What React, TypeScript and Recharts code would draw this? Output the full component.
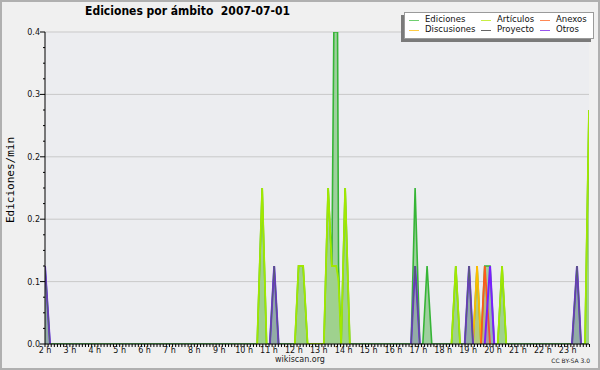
import React from 'react';
import { ComposedChart, Area, XAxis, YAxis, CartesianGrid } from 'recharts';

// time of each sample, in hours of the day
const times = [
  2.0, 2.201, 10.524, 10.725, 10.902, 11.034, 11.207, 11.384, 12.038, 12.187,
  12.371, 12.548, 13.203, 13.375, 13.524, 13.604, 13.697, 13.753, 13.793, 13.897,
  14.058, 14.247, 16.708, 16.869, 17.057, 17.178, 17.35, 17.539, 18.33, 18.503,
  18.675, 18.864, 19.037, 19.197, 19.358, 19.515, 19.667, 19.88, 20.049, 20.189,
  20.362, 20.531, 23.172, 23.373, 23.534, 23.694, 23.855,
];

// edits per minute
const ediciones = [
  0.1, 0, 0, 0.2, 0, 0, 0.1, 0, 0, 0.1,
  0.1, 0, 0, 0.2, 0.1, 0.4, 0.4, 0.4, 0.1, 0,
  0.2, 0, 0, 0.2, 0, 0, 0.1, 0, 0, 0.1,
  0, 0, 0.1, 0, 0.1, 0, 0.1, 0.1, 0, 0,
  0.1, 0, 0, 0.1, 0, 0, 0.3,
];
const articulos = [
  0, 0, 0, 0.2, 0, 0, 0, 0, 0, 0.1,
  0.1, 0, 0, 0.2, 0.1, 0.1, 0.1, 0.09, 0.08, 0,
  0.2, 0, 0, 0, 0, 0, 0, 0, 0, 0.1,
  0, 0, 0, 0, 0, 0, 0, 0, 0, 0,
  0.1, 0, 0, 0, 0, 0, 0.3,
];
const discusiones = [
  0, 0, 0, 0, 0, 0, 0, 0, 0, 0,
  0, 0, 0, 0, 0, 0, 0, 0, 0, 0,
  0, 0, 0, 0, 0, 0, 0, 0, 0, 0,
  0, 0, 0, 0, 0.1, 0, 0, 0, 0, 0,
  0, 0, 0, 0, 0, 0, 0,
];
const anexos = [
  0, 0, 0, 0, 0, 0, 0, 0, 0, 0,
  0, 0, 0, 0, 0, 0, 0, 0, 0, 0,
  0, 0, 0, 0, 0, 0, 0, 0, 0, 0,
  0, 0, 0, 0, 0, 0, 0.1, 0, 0, 0,
  0, 0, 0, 0, 0, 0, 0,
];
const proyecto = [
  0.1, 0, 0, 0, 0, 0, 0.1, 0, 0, 0,
  0, 0, 0, 0, 0, 0, 0, 0, 0, 0,
  0, 0, 0, 0.1, 0, 0, 0, 0, 0, 0,
  0, 0, 0.1, 0, 0, 0, 0, 0, 0, 0,
  0, 0, 0, 0.1, 0, 0, 0,
];
const otros = [
  0.1, 0, 0, 0, 0, 0, 0.1, 0, 0, 0,
  0, 0, 0, 0, 0, 0, 0, 0, 0, 0,
  0, 0, 0, 0.1, 0, 0, 0, 0, 0, 0,
  0, 0, 0.1, 0, 0, 0, 0, 0.1, 0, 0,
  0, 0, 0, 0.1, 0, 0, 0,
];

const hourLabels = [2, 3, 4, 5, 6, 7, 8, 9, 10, 11, 12, 13, 14, 15, 16, 17, 18, 19, 20, 21, 22, 23];
const yTicks = [0, 0.02, 0.04, 0.06, 0.08, 0.1, 0.12, 0.14, 0.16, 0.18, 0.2, 0.22, 0.24, 0.26, 0.28, 0.3, 0.32, 0.34, 0.36, 0.38, 0.4];
const yMajor = [0, 0.08, 0.16, 0.24, 0.32, 0.4];

const titleText = 'Ediciones por ámbito  2007-07-01';
const yLabel = 'Ediciones/min';

const series = [
  { key: 'ediciones', name: 'Ediciones', values: ediciones, stroke: '#36b536', legend: '#6fcf6f', fill: '#9fcf9f', fillOpacity: 1, width: 1.6 },
  { key: 'articulos', name: 'Artículos', values: articulos, stroke: '#a2e800', legend: '#c8ee44', fill: '#a2e800', fillOpacity: 0.1, width: 1.8 },
  { key: 'discusiones', name: 'Discusiones', values: discusiones, stroke: '#ffbb00', legend: '#ffcc44', fill: '#ffbb00', fillOpacity: 0.2, width: 1.8 },
  { key: 'anexos', name: 'Anexos', values: anexos, stroke: '#ff5a1a', legend: '#ff8855', fill: '#ff5a1a', fillOpacity: 0.2, width: 1.8 },
  { key: 'otros', name: 'Otros', values: otros, stroke: '#7a1fff', legend: '#9955ee', fill: '#7a1fff', fillOpacity: 0.15, width: 2 },
  { key: 'proyecto', name: 'Proyecto', values: proyecto, stroke: '#556070', legend: '#666666', fill: '#556070', fillOpacity: 0.1, width: 1 },
];

const legendOrder = [
  ['Ediciones', 'Artículos', 'Anexos'],
  ['Discusiones', 'Proyecto', 'Otros'],
];
const legendCols = [{ sw: 4, tx: 20 }, { sw: 76, tx: 92 }, { sw: 135, tx: 151 }];

const isolate = (arr: number[], i: number) => {
  const v = arr[i];
  if (v === 0 && (i === 0 || arr[i - 1] === 0) && (i === arr.length - 1 || arr[i + 1] === 0)) return null;
  return v;
};

const rows = times.map((t, i) => {
  const r: any = { t };
  series.forEach((s) => { r[s.key] = isolate(s.values, i); });
  return r;
});

const xTicks: number[] = [];
for (let k = 0; k <= (23 - 2) * 8 + 7; k++) xTicks.push(2 + k / 8);

const FONT = 'DejaVu Sans, sans-serif';

const XTick = (props: any) => {
  const { x, y, payload } = props;
  const v = payload.value;
  const isHour = Math.abs(v - Math.round(v)) < 1e-6 && hourLabels.includes(Math.round(v));
  return (
    <g>
      <line x1={x} x2={x} y1={y} y2={y + 3} stroke="#000" strokeWidth={1} />
      {isHour && (
        <text x={x} y={y + 9} textAnchor="middle" fontSize={8} fontFamily={FONT} fill="#111">{`${Math.round(v)} h`}</text>
      )}
    </g>
  );
};

const YTick = (props: any) => {
  const { x, y, payload } = props;
  const v = payload.value;
  const major = yMajor.some((m) => Math.abs(m - v) < 1e-6);
  return (
    <g>
      <line x1={x - (major ? 5 : 2)} x2={x} y1={y} y2={y} stroke="#000" strokeWidth={1} />
      {major && (
        <text x={x - 5} y={y + 3} textAnchor="end" fontSize={8} fontFamily={FONT} fill="#111">{v.toFixed(1)}</text>
      )}
    </g>
  );
};

export default function App() {
  const byName = (n: string) => series.find((s) => s.name === n)!;
  return (
    <div style={{ position: 'absolute', left: 0, top: 0, width: 600, height: 370, background: '#f0f0f0', overflow: 'hidden' }}>
      <ComposedChart width={600} height={370} data={rows} margin={{ top: 32, right: 11, bottom: 6, left: 0 }}>
        <CartesianGrid vertical={false} horizontalValues={yMajor} stroke="#c9c9c9" fill="#ecedf0" />
        <XAxis
          dataKey="t"
          type="number"
          domain={[2, 23.855]}
          ticks={xTicks}
          interval={0}
          height={20}
          tickSize={0}
          tickMargin={0}
          tickLine={false}
          tick={<XTick />}
          axisLine={{ stroke: '#000' }}
          allowDataOverflow
        />
        <YAxis
          type="number"
          domain={[0, 0.4]}
          ticks={yTicks}
          interval={0}
          width={45}
          tickSize={0}
          tickMargin={0}
          tickLine={false}
          tick={<YTick />}
          axisLine={{ stroke: '#000' }}
          allowDataOverflow
        />
        {series.map((s) => (
          <Area
            key={s.key}
            dataKey={s.key}
            name={s.name}
            type="linear"
            stroke={s.stroke}
            strokeWidth={s.width}
            fill={s.fill}
            fillOpacity={s.fillOpacity}
            isAnimationActive={false}
            dot={false}
            activeDot={false}
          />
        ))}
      </ComposedChart>

      <div style={{ position: 'absolute', left: 0, top: 4, width: 375, textAlign: 'center', fontFamily: 'DejaVu Sans Condensed, DejaVu Sans, sans-serif', fontWeight: 'bold', fontSize: 12, whiteSpace: 'pre', color: '#000' }}>
        {titleText}
      </div>

      <div style={{ position: 'absolute', left: 10, top: 180, width: 0, height: 0 }}>
        <div style={{ position: 'absolute', transform: 'translate(-50%, -50%) rotate(-90deg)', fontFamily: 'DejaVu Sans Mono, monospace', fontSize: 11, whiteSpace: 'nowrap', color: '#000' }}>
          {yLabel}
        </div>
      </div>

      <div style={{ position: 'absolute', left: 404, top: 12, width: 188, height: 25, background: '#fff', border: '1px solid #9a9a9a', boxShadow: '-3px 3px 0 #7a7a7a' }}>
        {legendOrder.map((row, ri) =>
          row.map((n, ci) => {
            const s = byName(n);
            const top = 7 + ri * 10;
            return (
              <React.Fragment key={n}>
                <div style={{ position: 'absolute', left: legendCols[ci].sw, top: top, width: 10, height: 1, background: s.legend }} />
                <div style={{ position: 'absolute', left: legendCols[ci].tx, top: top - 6, fontFamily: FONT, fontSize: 8.5, lineHeight: '11px', color: '#111', whiteSpace: 'nowrap' }}>{n}</div>
              </React.Fragment>
            );
          })
        )}
      </div>

      <div style={{ position: 'absolute', left: 250, width: 100, top: 355, textAlign: 'center', fontFamily: FONT, fontSize: 8, color: '#222' }}>wikiscan.org</div>
      <div style={{ position: 'absolute', right: 10, top: 357, fontFamily: FONT, fontSize: 6, color: '#222' }}>CC BY-SA 3.0</div>

      <div style={{ position: 'absolute', left: 0, top: 0, width: 600, height: 370, boxSizing: 'border-box', border: '2px solid #b0b0b0', pointerEvents: 'none' }} />
    </div>
  );
}
